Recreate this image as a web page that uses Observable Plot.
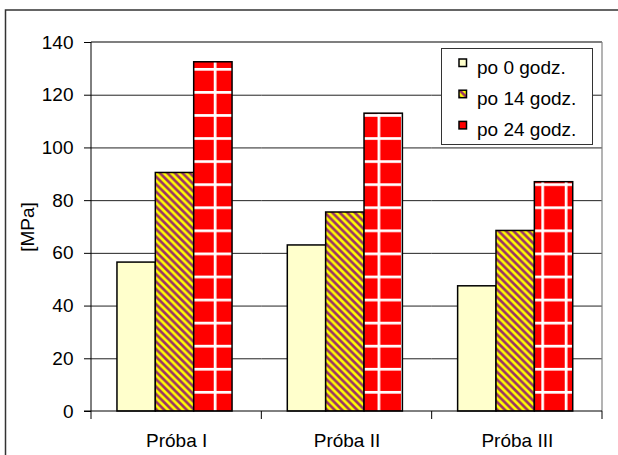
<!DOCTYPE html>
<html><head><meta charset="utf-8">
<script src="https://cdn.jsdelivr.net/npm/d3@7"></script>
<script src="https://cdn.jsdelivr.net/npm/@observablehq/plot@0.6"></script>
<style>html,body{margin:0;padding:0;background:#fff;} svg{display:block}</style>
</head><body><div id="chart"></div>
<script>
const categories = ["Próba I", "Próba II", "Próba III"];
const series = ["po 0 godz.", "po 14 godz.", "po 24 godz."];
const after0h = [56.5, 63, 47.5];
const after14h = [90.5, 75.5, 68.5];
const after24h = [132.5, 113, 87];
const yTicks = [0, 20, 40, 60, 80, 100, 120, 140];
const fills = ["#FFFFCC", "url(#stripes)", "url(#grid)"];
const swatchFills = ["#FFFFCC", "url(#stripes)", "#FF0000"];

const values = [after0h, after14h, after24h];
const data = categories.flatMap((c, i) => series.map((s, j) => ({cat: c, s, v: values[j][i]})));

const font = "'Liberation Sans', Arial, sans-serif";
const chart = Plot.plot({
  width: 618, height: 455,
  marginLeft: 91, marginRight: 16, marginTop: 42, marginBottom: 44,
  style: {fontFamily: font, fontSize: "19px", background: "#fff", color: "#000", overflow: "visible"},
  fx: {domain: categories, padding: 0, round: false, axis: "bottom", label: null, tickSize: 0, tickPadding: 22},
  x: {domain: series, paddingInner: 0, paddingOuter: 0.72, align: 0.47, round: false, axis: null},
  y: {domain: [0, 140], ticks: yTicks, tickSize: 7, tickPadding: 11, label: "[MPa]", labelAnchor: "center", labelOffset: 71, labelArrow: "none"},
  color: {domain: series, range: fills},
  marks: [
    Plot.ruleY(yTicks.filter(t => t > 0 && t < 140), {stroke: "#222", strokeWidth: 1}),
    Plot.barY(data, {fx: "cat", x: "s", y: "v", fill: "s", stroke: "#000", strokeWidth: 1.5})
  ]
});
document.getElementById("chart").appendChild(chart);

const svg = d3.select(chart);
const fx = chart.scale("fx"), y = chart.scale("y");
const left = fx.apply(categories[0]);
const right = fx.apply(categories[categories.length - 1]) + fx.bandwidth;
const y0 = y.apply(0), yTop = y.apply(yTicks[yTicks.length - 1]);

const defs = svg.insert("defs", ":first-child");
const P = 7.5;
const st = defs.append("pattern").attr("id", "stripes").attr("patternUnits", "userSpaceOnUse")
  .attr("width", P).attr("height", P);
st.append("rect").attr("width", P).attr("height", P).attr("fill", "#FFFF00");
st.append("path").attr("d", `M0,0L${P/2},0L${P},${P/2}L${P},${P}Z M0,${P/2}L${P/2},${P}L0,${P}Z`).attr("fill", "#993366");

const GW = 23.4, GH = 23.07, LW = 2.7;
function makeGrid(id, ox) {
  const g = defs.append("pattern").attr("id", id).attr("patternUnits", "userSpaceOnUse")
    .attr("width", GW).attr("height", GH).attr("x", 3.15 - ox).attr("y", -1.25);
  g.append("rect").attr("width", GW).attr("height", GH).attr("fill", "#FF0000");
  g.append("rect").attr("width", LW).attr("height", GH).attr("fill", "#fff");
  g.append("rect").attr("width", GW).attr("height", LW).attr("fill", "#fff");
}
makeGrid("grid", 0);
svg.selectAll("rect").filter(function(){ return this.getAttribute("fill") === "url(#grid)"; })
  .each(function(d, i) {
    const ctm = this.getCTM();
    const id = "grid" + i;
    makeGrid(id, ctm ? ctm.e : 0);
    this.setAttribute("fill", `url(#${id})`);
  });

const deco = svg.append("g");
deco.append("line").attr("x1", left).attr("x2", right).attr("y1", yTop).attr("y2", yTop).attr("stroke", "#555").attr("stroke-width", 1.5);
deco.append("line").attr("x1", right).attr("x2", right).attr("y1", yTop).attr("y2", y0).attr("stroke", "#808080").attr("stroke-width", 1.2);
deco.append("line").attr("x1", left).attr("x2", left).attr("y1", yTop).attr("y2", y0).attr("stroke", "#000");
deco.append("line").attr("x1", left - 7).attr("x2", right).attr("y1", y0).attr("y2", y0).attr("stroke", "#000");
const bounds = categories.map(c => fx.apply(c)).concat([right]);
deco.selectAll("line.ct").data(bounds).join("line").attr("class", "ct")
  .attr("x1", d => d).attr("x2", d => d).attr("y1", y0).attr("y2", y0 + 8).attr("stroke", "#000");

deco.append("rect").attr("x", 5.5).attr("y", 10).attr("width", 700).attr("height", 600)
  .attr("fill", "none").attr("stroke", "#333").attr("stroke-width", 1.5);

const lg = svg.append("g").attr("font-family", font).attr("font-size", 19).attr("text-anchor", "start");
lg.append("rect").attr("x", 441.5).attr("y", 48.5).attr("width", 151).attr("height", 96)
  .attr("fill", "#fff").attr("stroke", "#333");
series.forEach((s, i) => {
  const base = 74 + 31.2 * i;
  lg.append("rect").attr("x", 459).attr("y", base - 15).attr("width", 7.5).attr("height", 7.5)
    .attr("fill", swatchFills[i]).attr("stroke", "#000").attr("stroke-width", 1.5);
  lg.append("text").attr("x", 477).attr("y", base).attr("text-anchor", "start").text(s);
});
</script></body></html>
